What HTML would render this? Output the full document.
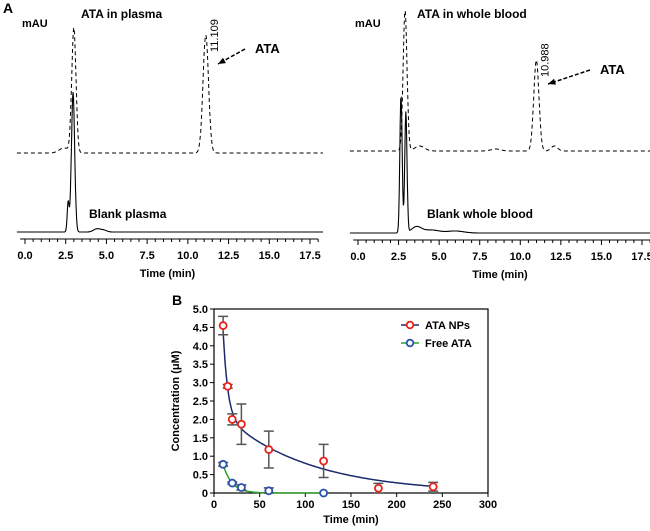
<!DOCTYPE html>
<html><head><meta charset="utf-8"><style>
body{margin:0;background:#fff}
svg{display:block;font-family:"Liberation Sans",Arial,sans-serif}
</style></head><body>
<svg id="s" width="650" height="531" viewBox="0 0 650 531">
<text x="3" y="13" font-size="14" font-weight="bold">A</text>
<text x="172" y="305" font-size="14" font-weight="bold">B</text>
<g id="pa"></g>
<g id="pb"></g>
</svg>
<script>
// ---------- Panel A data ----------
const chromTicks = ["0.0","2.5","5.0","7.5","10.0","12.5","15.0","17.5"];
const chromTickVals = [0,2.5,5,7.5,10,12.5,15,17.5];
// peaks: [retention time, height (px above baseline), width (min)]
const plasmaSamplePeaks = [[3.0,125,0.13],[11.1,118,0.17],[2.4,5,0.3]];
const plasmaBlankPeaks = [[2.95,140,0.1],[2.65,30,0.06],[4.4,3,0.2],[4.8,2,0.2]];
const bloodSamplePeaks = [[2.9,141,0.12],[10.99,91,0.16],[12.1,5,0.2],[3.8,5,0.3],[8.5,2,0.3]];
const bloodBlankPeaks = [[2.65,138,0.07],[2.95,121,0.07],[3.6,6,0.3],[4.5,3,0.5],[6,2,0.5]];
const plasmaLabel = "11.109", bloodLabel = "10.988";

// ---------- Panel B data ----------
const timesNP = [10,15,20,30,60,120,180,240];
const valsNP = [4.55,2.9,2.0,1.87,1.18,0.87,0.13,0.17];
const errNP = [0.25,0.05,0.15,0.55,0.5,0.45,0.13,0.12];
const timesFree = [10,20,30,60,120];
const valsFree = [0.78,0.27,0.15,0.06,0.0];
const errFree = [0.05,0.03,0.07,0.08,0.0];
const xTicksB = [0,50,100,150,200,250,300];
const yTicksB = [0,0.5,1.0,1.5,2.0,2.5,3.0,3.5,4.0,4.5,5.0];
const yTickLabelsB = ["0","0.5","1.0","1.5","2.0","2.5","3.0","3.5","4.0","4.5","5.0"];

const NS="http://www.w3.org/2000/svg";
function mk(tag,attrs,parent,text){const e=document.createElementNS(NS,tag);for(const k in attrs)e.setAttribute(k,attrs[k]);if(text!==undefined)e.textContent=text;parent.appendChild(e);return e;}

function chrom(g,x0,x1,baseDash,baseSolid,sample,blank,titleTxt,titleX,blankTxt,blankX,peakLbl,arrow){
  const sx=t=>x0+(x1-x0)*t/17.5;
  function path(peaks,base){let d="";for(let i=0;i<=600;i++){const t=-0.5+18.8*i/600;let y=base;for(const p of peaks)y-=p[1]*Math.exp(-0.5*Math.pow((t-p[0])/p[2],2));d+=(i?"L":"M")+sx(t).toFixed(1)+","+y.toFixed(1);}return d;}
  let e=mk("path",{d:path(sample,baseDash),fill:"none",stroke:"#000","stroke-width":1,"stroke-dasharray":"4,3"},g);
  
  e=mk("path",{d:path(blank,baseSolid),fill:"none",stroke:"#000","stroke-width":1.1},g);
  
  const ay=baseSolid+7;
  e=mk("line",{x1:sx(-0.3),x2:sx(18),y1:ay,y2:ay,stroke:"#000","stroke-width":1},g);
  
  for(let v=0;v<=18;v+=0.5){mk("line",{x1:sx(v),x2:sx(v),y1:ay,y2:ay+(v%2.5===0?5:3),stroke:"#000","stroke-width":1},g);}
  chromTickVals.forEach((v,i)=>{e=mk("text",{x:sx(v),y:ay+20,"font-size":11,"font-weight":"bold","text-anchor":"middle"},g,chromTicks[i]);});
  e=mk("text",{x:(sx(0)+sx(17.5))/2,y:ay+38,"font-size":11,"font-weight":"bold","text-anchor":"middle"},g,"Time (min)");
  
  e=mk("text",{x:x0-3,y:27,"font-size":11,"font-weight":"bold"},g,"mAU");
  
  e=mk("text",{x:titleX,y:18,"font-size":12,"font-weight":"bold"},g,titleTxt);
  
  e=mk("text",{x:blankX,y:218,"font-size":12,"font-weight":"bold"},g,blankTxt);
  
  const pk=sample[1];
  e=mk("text",{transform:`translate(${sx(pk[0])+12},${baseDash-pk[1]+17}) rotate(-90)`,"font-size":11,"text-anchor":"start"},g,peakLbl);
  
  e=mk("line",{x1:arrow[0],y1:arrow[1],x2:arrow[2],y2:arrow[3],stroke:"#000","stroke-width":1.5,"stroke-dasharray":"4,2"},g);
  
  const ang=Math.atan2(arrow[3]-arrow[1],arrow[2]-arrow[0]);
  const ax=arrow[2],ayy=arrow[3];
  mk("polygon",{points:`${ax},${ayy} ${ax-8*Math.cos(ang-0.4)},${ayy-8*Math.sin(ang-0.4)} ${ax-8*Math.cos(ang+0.4)},${ayy-8*Math.sin(ang+0.4)}`,fill:"#000"},g);
  e=mk("text",{x:arrow[0]+10,y:arrow[1]+4,"font-size":13,"font-weight":"bold"},g,"ATA");
  
}
const pa=document.getElementById("pa");
chrom(pa,25,310,153,232,plasmaSamplePeaks,plasmaBlankPeaks,"ATA in plasma",81,"Blank plasma",89,plasmaLabel,[245,49,218,64]);
chrom(pa,358,642,151,233,bloodSamplePeaks,bloodBlankPeaks,"ATA in whole blood",417,"Blank whole blood",427,bloodLabel,[590,70,548,84]);

// ---------- Panel B ----------
const pb=document.getElementById("pb");
const L=214,R=488,T=309,B=493;
const xB=t=>L+(R-L)*t/300, yB=v=>B-(B-T)*v/5;
let e=mk("rect",{x:L,y:T,width:R-L,height:B-T,fill:"none",stroke:"#000","stroke-width":1.2},pb);

xTicksB.forEach(v=>{mk("line",{x1:xB(v),x2:xB(v),y1:B,y2:B+4,stroke:"#000"},pb);e=mk("text",{x:xB(v),y:B+15,"font-size":11,"font-weight":"bold","text-anchor":"middle"},pb,String(v));});
yTicksB.forEach((v,i)=>{mk("line",{x1:L-4,x2:L,y1:yB(v),y2:yB(v),stroke:"#000"},pb);e=mk("text",{x:L-6,y:yB(v)+4,"font-size":11,"font-weight":"bold","text-anchor":"end"},pb,yTickLabelsB[i]);});
e=mk("text",{x:(L+R)/2,y:B+30,"font-size":11,"font-weight":"bold","text-anchor":"middle"},pb,"Time (min)");

e=mk("text",{transform:`translate(179,${(T+B)/2}) rotate(-90)`,"font-size":11,"font-weight":"bold","text-anchor":"middle"},pb,"Concentration (μM)");

function curve(f,t0,t1,color,name){let d="";for(let i=0;i<=200;i++){const t=t0+(t1-t0)*i/200;d+=(i?"L":"M")+xB(t).toFixed(1)+","+yB(f(t)).toFixed(1);}const c=mk("path",{d,fill:"none",stroke:color,"stroke-width":1.5},pb);}
curve(t=>16.9*Math.exp(-0.2*t)+2.35*Math.exp(-0.0107*t),10,240,"#1a2a6c","np-fit-curve");
curve(t=>2.25*Math.exp(-0.106*t),10,120,"#2ca02c","free-fit-curve");
function series(ts,vs,es,color,name){ts.forEach((t,i)=>{const x=xB(t);if(es[i]>0){e=mk("path",{d:`M${x},${yB(vs[i]+es[i])}V${yB(Math.max(0,vs[i]-es[i]))}M${x-5},${yB(vs[i]+es[i])}h10M${x-5},${yB(Math.max(0,vs[i]-es[i]))}h10`,stroke:"#555","stroke-width":1.5,fill:"none"},pb);}
  e=mk("circle",{cx:x,cy:yB(vs[i]),r:3.5,fill:"#fff",stroke:color,"stroke-width":1.8},pb);});}
series(timesNP,valsNP,errNP,"#e8221b","np");
series(timesFree,valsFree,errFree,"#2a52a8","free");
[["ATA NPs","#1a2a6c","#e8221b",325],["Free ATA","#2ca02c","#2a52a8",343]].forEach(l=>{
  const g=mk("g",{},pb);
  mk("line",{x1:401,x2:419,y1:l[3],y2:l[3],stroke:l[1],"stroke-width":1.5},g);
  mk("circle",{cx:410,cy:l[3],r:3.3,fill:"#fff",stroke:l[2],"stroke-width":1.8},g);
  mk("text",{x:425,y:l[3]+4,"font-size":11,"font-weight":"bold"},g,l[0]);
});
</script>
</body></html>
